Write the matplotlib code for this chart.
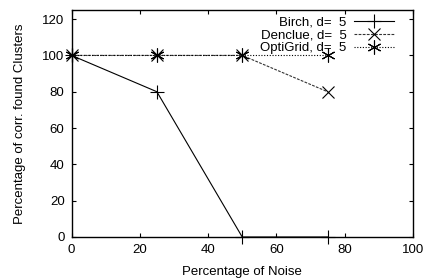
import matplotlib
matplotlib.use('Agg')
import matplotlib.pyplot as plt

plt.rcParams['font.family'] = ['Liberation Sans', 'DejaVu Sans']

noise = [0, 25, 50, 75]
birch = [100, 80, 0, 0]
denclue = [100, 100, 100, 80]
optigrid = [100, 100, 100, 100]

xlab = 'Percentage of Noise'
ylab = 'Percentage of corr. found Clusters'

fig = plt.figure(figsize=(4.27, 2.78), dpi=100)
ax = fig.add_axes([0.1675, 0.1475, 0.7995, 0.8165])

ax.plot(noise, birch, 'k-', lw=0.8, marker='+', ms=10, mew=0.8,
        clip_on=False, label='Birch, d=  5')
ax.plot(noise, denclue, color='#333333', ls=(0, (2.5, 1.2)), lw=0.8, marker='x', ms=9,
        mew=0.8, mec='k', clip_on=False, label='Denclue, d=  5')
ax.plot(noise, optigrid, color='k', ls=(0, (1, 1.5)), lw=0.8, marker=(6, 2, 0), ms=10,
        mew=0.8, clip_on=False, label='OptiGrid, d=  5')

ax.set_xlim(0, 100)
ax.set_ylim(0, 125)
ax.set_xticks([0, 20, 40, 60, 80, 100])
ax.set_yticks([0, 20, 40, 60, 80, 100, 120])
ax.tick_params(direction='in', top=True, right=True, length=3, width=0.8, labelsize=9.5, pad=5)
for s in ax.spines.values():
    s.set_linewidth(1.0)

ax.set_xlabel(xlab, fontsize=9.5, labelpad=7)
ax.set_ylabel(ylab, fontsize=9.5, labelpad=12)

ax.legend(loc='upper right', frameon=False, markerfirst=False, fontsize=9.5,
          handlelength=3.0, handletextpad=0.6, labelspacing=0.05,
          borderaxespad=0.3, bbox_to_anchor=(0.965 + 0.005 / 0.8, 1.013))

fig.savefig('out.png', dpi=100)
